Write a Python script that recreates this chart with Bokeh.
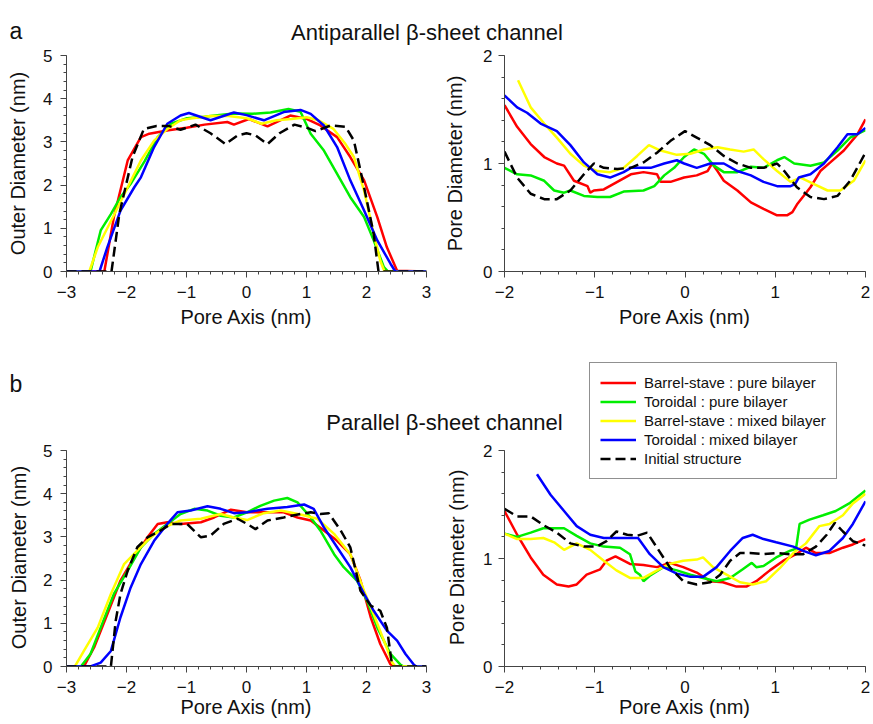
import math
from bokeh.plotting import figure
from bokeh.models import Range1d, SingleIntervalTicker, Label, Legend, LegendItem, GridBox
from bokeh.layouts import column, row
from bokeh.embed import file_html
from bokeh.resources import INLINE

FONT = "Liberation Sans"

# ---------------- data ----------------
SERIES = ["Barrel-stave : pure bilayer", "Toroidal : pure bilayer",
          "Barrel-stave : mixed bilayer", "Toroidal : mixed bilayer", "Initial structure"]

# (a) antiparallel - outer diameter
ao_red_x = [-3, -2.37, -2.21, -1.98, -1.76, -1.62, -1.3, -1.0, -0.7, -0.32, -0.21, 0.04, 0.35, 0.73, 1.01, 1.23, 1.51, 1.73, 1.96, 2.18, 2.34, 2.51, 3]
ao_red_y = [0, 0, 1.26, 2.57, 3.11, 3.19, 3.27, 3.33, 3.40, 3.46, 3.40, 3.53, 3.36, 3.61, 3.53, 3.38, 3.11, 2.65, 2.11, 1.26, 0.56, 0.02, 0]
ao_green_x = [-3, -2.6, -2.43, -2.26, -2.1, -1.93, -1.7, -1.48, -1.26, -0.99, -0.7, -0.45, -0.2, 0.1, 0.4, 0.7, 0.9, 1.07, 1.29, 1.51, 1.73, 1.96, 2.12, 2.29, 2.36, 3]
ao_green_y = [0, 0, 0.95, 1.33, 1.72, 2.03, 2.55, 3.11, 3.42, 3.55, 3.58, 3.62, 3.66, 3.65, 3.68, 3.76, 3.70, 3.19, 2.80, 2.26, 1.72, 1.26, 0.72, 0.1, 0, 0]
ao_yellow_x = [-3, -2.62, -2.48, -2.2, -1.98, -1.76, -1.54, -1.32, -1.1, -0.9, -0.6, -0.3, 0, 0.25, 0.5, 0.75, 1.0, 1.2, 1.45, 1.65, 1.79, 1.96, 2.12, 2.23, 2.3, 3]
ao_yellow_y = [0, 0, 0.56, 1.33, 1.95, 2.57, 3.03, 3.30, 3.50, 3.55, 3.60, 3.60, 3.55, 3.42, 3.50, 3.53, 3.57, 3.50, 3.30, 2.95, 2.65, 1.87, 0.87, 0.25, 0, 0]
ao_blue_x = [-3, -2.45, -2.32, -2.10, -1.87, -1.76, -1.54, -1.32, -1.1, -0.96, -0.6, -0.21, 0.0, 0.29, 0.62, 0.9, 1.07, 1.29, 1.51, 1.73, 1.96, 2.18, 2.4, 2.48, 3]
ao_blue_y = [0, 0, 0.56, 1.41, 1.95, 2.18, 2.88, 3.42, 3.61, 3.67, 3.50, 3.68, 3.62, 3.50, 3.69, 3.74, 3.65, 3.38, 2.88, 2.11, 1.41, 0.72, 0.18, 0, 0]
ao_black_x = [-3, -2.25, -2.12, -1.90, -1.71, -1.5, -1.3, -1.1, -0.85, -0.6, -0.35, -0.15, 0, 0.15, 0.35, 0.55, 0.8, 1.0, 1.15, 1.4, 1.65, 1.79, 1.96, 2.12, 2.2, 3]
ao_black_y = [0, 0, 1.33, 2.65, 3.30, 3.37, 3.37, 3.28, 3.40, 3.20, 2.95, 3.15, 3.20, 3.15, 2.95, 3.20, 3.40, 3.33, 3.25, 3.38, 3.35, 3.03, 1.95, 0.87, 0, 0]

# (a) antiparallel - pore diameter
ap_red_x = [-2, -1.86, -1.71, -1.56, -1.42, -1.34, -1.23, -1.08, -1.05, -1.01, -0.9, -0.75, -0.6, -0.46, -0.31, -0.27, -0.16, -0.01, 0.13, 0.25, 0.30, 0.36, 0.43, 0.58, 0.73, 0.87, 1.02, 1.13, 1.19, 1.24, 1.39, 1.5, 1.61, 1.76, 1.91, 2.0]
ap_red_y = [1.54, 1.34, 1.18, 1.06, 1.0, 0.98, 0.84, 0.79, 0.73, 0.75, 0.76, 0.83, 0.90, 0.92, 0.90, 0.83, 0.83, 0.87, 0.89, 0.93, 1.0, 0.93, 0.84, 0.75, 0.64, 0.58, 0.52, 0.52, 0.55, 0.62, 0.78, 0.93, 1.01, 1.12, 1.27, 1.41]
ap_green_x = [-2, -1.86, -1.71, -1.56, -1.45, -1.34, -1.27, -1.12, -0.97, -0.83, -0.68, -0.46, -0.34, -0.23, -0.12, -0.01, 0.10, 0.21, 0.32, 0.43, 0.58, 0.73, 0.87, 1.02, 1.1, 1.21, 1.39, 1.54, 1.69, 1.83, 2.0]
ap_green_y = [0.96, 0.90, 0.89, 0.84, 0.75, 0.73, 0.75, 0.70, 0.69, 0.69, 0.74, 0.75, 0.79, 0.89, 0.96, 1.06, 1.13, 1.09, 0.98, 0.92, 0.92, 0.97, 0.96, 1.03, 1.06, 1.0, 0.98, 1.01, 1.12, 1.24, 1.31]
ap_yellow_x = [-1.85, -1.71, -1.56, -1.42, -1.27, -1.12, -0.97, -0.83, -0.68, -0.53, -0.40, -0.27, -0.09, 0.06, 0.21, 0.36, 0.5, 0.65, 0.76, 0.87, 1.02, 1.17, 1.28, 1.43, 1.58, 1.72, 1.87, 2.0]
ap_yellow_y = [1.77, 1.52, 1.37, 1.24, 1.09, 0.98, 0.93, 0.92, 0.96, 1.07, 1.17, 1.12, 1.08, 1.09, 1.13, 1.15, 1.13, 1.11, 1.13, 1.04, 0.93, 0.83, 0.87, 0.81, 0.75, 0.75, 0.84, 1.03]
ap_blue_x = [-2, -1.86, -1.75, -1.60, -1.42, -1.27, -1.12, -0.97, -0.83, -0.68, -0.60, -0.38, -0.23, -0.09, -0.01, 0.13, 0.28, 0.43, 0.58, 0.73, 0.87, 1.02, 1.17, 1.22, 1.26, 1.39, 1.54, 1.69, 1.80, 1.91, 2.0]
ap_blue_y = [1.63, 1.52, 1.47, 1.37, 1.30, 1.17, 1.01, 0.90, 0.87, 0.92, 0.96, 0.96, 1.0, 1.03, 1.0, 0.96, 1.0, 1.0, 0.93, 0.89, 0.83, 0.79, 0.79, 0.81, 0.87, 0.90, 1.0, 1.15, 1.27, 1.27, 1.33]
ap_black_x = [-2, -1.86, -1.71, -1.56, -1.42, -1.27, -1.12, -1.01, -0.9, -0.75, -0.6, -0.46, -0.31, -0.16, 0.0, 0.13, 0.28, 0.43, 0.58, 0.73, 0.87, 1.02, 1.1, 1.24, 1.39, 1.54, 1.69, 1.83, 2.0]
ap_black_y = [1.11, 0.87, 0.72, 0.67, 0.67, 0.75, 0.90, 1.0, 0.96, 0.95, 0.96, 1.01, 1.10, 1.21, 1.30, 1.24, 1.17, 1.07, 1.0, 0.96, 0.96, 1.0, 0.93, 0.78, 0.69, 0.67, 0.70, 0.84, 1.10]

# (b) parallel - outer diameter
po_red_x = [-3, -2.71, -2.54, -2.32, -2.1, -1.87, -1.65, -1.48, -1.32, -1.1, -0.76, -0.54, -0.26, 0.01, 0.35, 0.62, 0.85, 1.07, 1.29, 1.51, 1.73, 1.9, 2.07, 2.23, 2.4, 2.45, 3]
po_red_y = [0, 0, 0.44, 1.21, 1.99, 2.53, 2.99, 3.30, 3.34, 3.30, 3.34, 3.45, 3.63, 3.57, 3.57, 3.57, 3.45, 3.38, 3.15, 2.91, 2.60, 1.99, 1.14, 0.52, 0.05, 0, 0]
po_green_x = [-3, -2.76, -2.6, -2.43, -2.21, -1.98, -1.76, -1.54, -1.32, -1.1, -0.87, -0.65, -0.43, -0.21, 0.01, 0.23, 0.46, 0.68, 0.85, 1.07, 1.23, 1.46, 1.62, 1.84, 2.01, 2.18, 2.40, 2.57, 2.62, 3]
po_green_y = [0, 0, 0.29, 0.90, 1.68, 2.22, 2.76, 3.07, 3.30, 3.53, 3.65, 3.61, 3.49, 3.45, 3.57, 3.72, 3.84, 3.90, 3.80, 3.45, 3.15, 2.60, 2.30, 1.99, 1.52, 0.90, 0.29, 0.04, 0, 0]
po_yellow_x = [-3, -2.86, -2.71, -2.48, -2.26, -2.04, -1.82, -1.6, -1.37, -1.1, -0.76, -0.43, -0.21, 0.01, 0.29, 0.57, 0.9, 1.18, 1.46, 1.73, 1.96, 2.12, 2.29, 2.43, 2.48, 3]
po_yellow_y = [0, 0, 0.36, 0.90, 1.68, 2.37, 2.68, 2.99, 3.22, 3.38, 3.42, 3.53, 3.45, 3.39, 3.55, 3.61, 3.52, 3.42, 3.07, 2.60, 1.75, 1.21, 0.60, 0.09, 0, 0]
po_blue_x = [-3, -2.6, -2.43, -2.26, -2.1, -1.93, -1.76, -1.54, -1.32, -1.15, -0.93, -0.65, -0.43, -0.21, 0.01, 0.35, 0.68, 0.96, 1.12, 1.29, 1.51, 1.73, 1.96, 2.12, 2.34, 2.51, 2.65, 2.79, 2.83, 3]
po_blue_y = [0, 0, 0.09, 0.36, 1.14, 1.83, 2.37, 2.91, 3.30, 3.57, 3.61, 3.71, 3.65, 3.55, 3.57, 3.65, 3.69, 3.75, 3.65, 3.22, 2.76, 2.30, 1.68, 1.29, 0.83, 0.60, 0.29, 0.04, 0, 0]
po_black_x = [-3, -2.26, -2.18, -2.10, -1.98, -1.82, -1.65, -1.43, -1.26, -0.99, -0.76, -0.60, -0.38, -0.15, 0.01, 0.15, 0.35, 0.62, 0.9, 1.07, 1.23, 1.37, 1.57, 1.73, 1.90, 2.07, 2.23, 2.34, 2.40, 2.43, 3]
po_black_y = [0, 0, 1.06, 1.68, 2.22, 2.76, 2.99, 3.15, 3.30, 3.30, 2.99, 3.03, 3.30, 3.42, 3.30, 3.18, 3.38, 3.45, 3.53, 3.57, 3.53, 3.55, 3.15, 2.76, 1.75, 1.41, 1.29, 0.90, 0.29, 0, 0]

# (b) parallel - pore diameter
pp_red_x = [-2, -1.86, -1.71, -1.57, -1.42, -1.29, -1.20, -1.09, -0.94, -0.87, -0.77, -0.61, -0.46, -0.31, -0.17, -0.02, 0.13, 0.28, 0.42, 0.57, 0.68, 0.79, 0.94, 1.09, 1.23, 1.34, 1.45, 1.60, 1.75, 1.86, 2.0]
pp_red_y = [1.44, 1.22, 1.01, 0.85, 0.76, 0.74, 0.76, 0.85, 0.90, 0.98, 1.02, 0.95, 0.94, 0.92, 0.96, 0.92, 0.87, 0.79, 0.78, 0.74, 0.74, 0.79, 0.89, 0.98, 1.04, 1.10, 1.05, 1.05, 1.10, 1.13, 1.18]
pp_green_x = [-2, -1.86, -1.71, -1.57, -1.34, -1.20, -1.05, -0.9, -0.72, -0.61, -0.55, -0.50, -0.46, -0.39, -0.24, -0.09, 0.06, 0.20, 0.35, 0.50, 0.64, 0.74, 0.79, 0.87, 1.01, 1.16, 1.23, 1.27, 1.38, 1.53, 1.67, 1.82, 2.0]
pp_green_y = [1.23, 1.20, 1.24, 1.28, 1.28, 1.21, 1.14, 1.11, 1.10, 1.04, 0.88, 0.85, 0.79, 0.84, 0.92, 0.89, 0.85, 0.82, 0.79, 0.82, 0.90, 0.96, 0.92, 0.93, 1.01, 1.07, 1.09, 1.32, 1.36, 1.40, 1.44, 1.51, 1.63]
pp_yellow_x = [-2, -1.86, -1.71, -1.57, -1.45, -1.34, -1.20, -1.05, -0.90, -0.76, -0.61, -0.46, -0.31, -0.17, -0.02, 0.13, 0.20, 0.31, 0.46, 0.61, 0.75, 0.90, 1.05, 1.20, 1.34, 1.49, 1.60, 1.75, 1.86, 2.0]
pp_yellow_y = [1.23, 1.18, 1.18, 1.19, 1.15, 1.08, 1.14, 1.08, 0.98, 0.89, 0.82, 0.82, 0.89, 0.95, 0.98, 0.99, 1.01, 0.92, 0.85, 0.78, 0.76, 0.79, 0.91, 1.05, 1.14, 1.30, 1.32, 1.40, 1.51, 1.60]
pp_blue_x = [-1.64, -1.49, -1.34, -1.20, -1.05, -0.90, -0.76, -0.61, -0.52, -0.39, -0.24, -0.09, 0.06, 0.20, 0.35, 0.50, 0.64, 0.75, 0.87, 1.01, 1.20, 1.31, 1.45, 1.60, 1.75, 1.86, 2.0]
pp_blue_y = [1.78, 1.59, 1.44, 1.30, 1.22, 1.19, 1.19, 1.19, 1.19, 1.04, 0.92, 0.86, 0.83, 0.83, 0.92, 1.07, 1.19, 1.22, 1.18, 1.15, 1.11, 1.07, 1.03, 1.07, 1.19, 1.32, 1.53]
pp_black_x = [-2, -1.86, -1.71, -1.57, -1.42, -1.27, -1.12, -0.98, -0.87, -0.76, -0.64, -0.53, -0.42, -0.31, -0.17, -0.02, 0.13, 0.28, 0.39, 0.50, 0.61, 0.72, 0.87, 1.01, 1.16, 1.31, 1.45, 1.57, 1.66, 1.75, 1.86, 2.0]
pp_black_y = [1.46, 1.39, 1.39, 1.31, 1.24, 1.14, 1.11, 1.11, 1.16, 1.25, 1.22, 1.21, 1.24, 1.10, 0.92, 0.79, 0.76, 0.78, 0.85, 0.98, 1.05, 1.05, 1.04, 1.05, 1.04, 1.04, 1.11, 1.22, 1.33, 1.25, 1.16, 1.12]

COLORS = ["#ff0000", "#00ee00", "#ffff00", "#0000ff", "#000000"]
DASH = "10 5"


def style_axes(p, ylabel, xl_std, xax_std, yl_std, yax_std):
    p.grid.visible = False
    p.outline_line_color = None
    p.border_fill_color = None
    p.background_fill_color = None
    for ax in (p.xaxis[0], p.yaxis[0]):
        ax.axis_line_color = "#444444"
        ax.major_tick_line_color = "#444444"
        ax.minor_tick_line_color = "#444444"
        ax.major_tick_in = 0
        ax.major_tick_out = 6
        ax.minor_tick_in = 0
        ax.minor_tick_out = 3
        ax.major_label_text_font = FONT
        ax.major_label_text_font_size = "17px"
        ax.major_label_text_color = "#111111"
        ax.axis_label_text_font = FONT
        ax.axis_label_text_font_size = "20px"
        ax.axis_label_text_font_style = "normal"
        ax.axis_label_text_color = "#111111"
    p.xaxis.ticker = SingleIntervalTicker(interval=1, num_minor_ticks=5)
    p.yaxis.ticker = SingleIntervalTicker(interval=1, num_minor_ticks=5)
    p.xaxis.axis_label = "Pore Axis (nm)"
    if ylabel:
        p.yaxis.axis_label = ylabel
    p.xaxis.major_label_standoff = xl_std
    p.xaxis.axis_label_standoff = xax_std
    p.yaxis.major_label_standoff = yl_std
    p.yaxis.axis_label_standoff = yax_std


def panel(width, height, xr, yr, mb, ylabel, xs, ys, stds):
    p = figure(width=width, height=height, x_range=Range1d(*xr), y_range=Range1d(*yr),
               toolbar_location=None, output_backend="svg",
               min_border_left=mb[0], min_border_right=mb[1],
               min_border_top=mb[2], min_border_bottom=mb[3])
    style_axes(p, ylabel, *stds)
    rends = []
    for i, (x, y) in enumerate(zip(xs, ys)):
        if i == 4:
            r = p.line(x, y, line_color=COLORS[i], line_width=2.5, line_dash=DASH)
        else:
            r = p.line(x, y, line_color=COLORS[i], line_width=2.5)
        rends.append(r)
    return p, rends


# top row: canvas y 0..345, frames y 55..271
tl, _ = panel(440, 345, (-3, 3), (0, 5), (66, 14, 55, 74), "Outer Diameter (nm)",
              [ao_red_x, ao_green_x, ao_yellow_x, ao_blue_x, ao_black_x],
              [ao_red_y, ao_green_y, ao_yellow_y, ao_blue_y, ao_black_y], (8, 5, 8, 11))
tr, _ = panel(431, 345, (-2, 2), (0, 2), (64, 6, 55, 74), "Pore Diameter (nm)",
              [ap_red_x, ap_green_x, ap_yellow_x, ap_blue_x, ap_black_x],
              [ap_red_y, ap_green_y, ap_yellow_y, ap_blue_y, ap_black_y], (8, 5, 6, 14))

# bottom row: canvas y 345..722; the plotting areas reach up to y 360 so that the legend fits,
# while the axes keep their 216 px length (top value at 450 px)
BOT_H, BOT_TOP, BOT_BOTTOM = 377, 15, 56
bot_frame_h = BOT_H - BOT_TOP - BOT_BOTTOM
bl, _ = panel(440, BOT_H, (-3, 3), (0, 5.0 * bot_frame_h / 216.0), (66, 14, BOT_TOP, BOT_BOTTOM), "",
              [po_red_x, po_green_x, po_yellow_x, po_blue_x, po_black_x],
              [po_red_y, po_green_y, po_yellow_y, po_blue_y, po_black_y], (8, 0, 8, 11))
bl.yaxis.bounds = (0, 5)
br, br_r = panel(431, BOT_H, (-2, 2), (0, 2.0 * bot_frame_h / 216.0), (64, 6, BOT_TOP, BOT_BOTTOM), "",
                 [pp_red_x, pp_green_x, pp_yellow_x, pp_blue_x, pp_black_x],
                 [pp_red_y, pp_green_y, pp_yellow_y, pp_blue_y, pp_black_y], (8, 0, 6, 14))
br.yaxis.bounds = (0, 2)

legend = Legend(items=[LegendItem(label=s, renderers=[r]) for s, r in zip(SERIES, br_r)],
                location=(85, 187), orientation="vertical",
                label_text_font=FONT, label_text_font_size="15px", label_text_color="#111111",
                glyph_width=36, glyph_height=19, label_height=19, spacing=0,
                padding=10, margin=0, label_standoff=8,
                border_line_color="#222222", border_line_width=1,
                background_fill_color="white", background_fill_alpha=1.0)
br.add_layout(legend)

# overlay figure holding panel letters, headings and bottom-row y titles
W, H = 871, 722
ov = figure(width=W, height=H, x_range=Range1d(0, W), y_range=Range1d(H, 0),
            toolbar_location=None, output_backend="svg", min_border=0)
ov.axis.visible = False
ov.grid.visible = False
ov.outline_line_color = None
ov.border_fill_color = None
ov.background_fill_color = None

for txt, x, y, size, align in [("a", 9, 30, "23px", "left"),
                               ("Antiparallel β-sheet channel", 426.5, 32, "22px", "center"),
                               ("b", 9, 383, "23px", "left"),
                               ("Parallel β-sheet channel", 444, 422, "22px", "center")]:
    ov.add_layout(Label(x=x, y=y, text=txt, text_font=FONT, text_font_size=size,
                        text_color="#111111", text_align=align, text_baseline="alphabetic"))

for txt, x in [("Outer Diameter (nm)", 18), ("Pore Diameter (nm)", 456)]:
    ov.add_layout(Label(x=x, y=557, text=txt, text_font=FONT, text_font_size="20px",
                        text_color="#111111", text_align="center", text_baseline="middle",
                        angle=math.pi / 2))

panels = column(row(tl, tr), row(bl, br))
layout = GridBox(children=[(panels, 0, 0), (ov, 0, 0)])

open("out.html", "w").write(file_html(layout, INLINE))
